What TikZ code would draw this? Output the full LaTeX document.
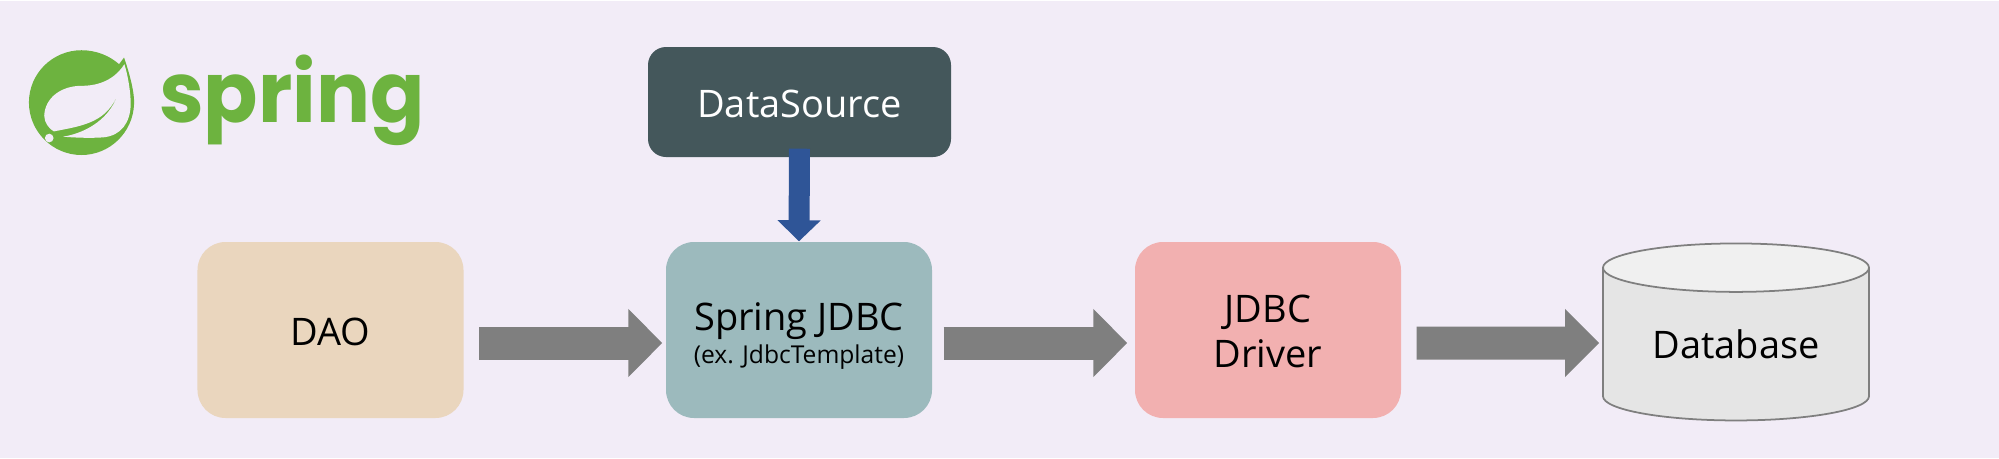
\documentclass[tikz,border=0pt]{standalone}
\usepackage{fontspec}
\setmainfont{Open Sans}
\newfontfamily\logofont{Poppins}
\usetikzlibrary{arrows.meta,shapes.geometric}
\definecolor{pagebg}{HTML}{F2ECF7}
\definecolor{springgreen}{HTML}{6DB33F}
\definecolor{flowgray}{HTML}{7F7F7F}
\definecolor{boxdark}{HTML}{44575B}
\definecolor{boxdao}{HTML}{EAD6BE}
\definecolor{boxjdbc}{HTML}{9CBABD}
\definecolor{boxdriver}{HTML}{F2B0B0}
\definecolor{boxdbside}{HTML}{E5E5E5}
\definecolor{boxdbtop}{HTML}{F0F0F0}
\definecolor{boxblue}{HTML}{2F5597}
\newcommand{\boxline}[2]{\raisebox{#1}[0pt][0pt]{#2}}
\tikzset{
  box/.style={rounded corners=0.28cm,minimum width=2.66cm,minimum height=1.76cm,inner sep=0pt,align=center,font=\fontsize{10.8}{13}\selectfont},
  flow/.style={flowgray,line width=0.33cm,-{Triangle[length=0.34cm,width=0.66cm]}},
}

\begin{document}
\begin{tikzpicture}
  \useasboundingbox (0,0) rectangle (19.99,4.58);
  \fill[pagebg] (0,0) rectangle (19.99,4.57);

  % logo
  \begin{scope}[x=0.003333cm,y=-0.003333cm,shift={(0,-1374)}]
    \fill[springgreen] (373,170) .. controls (392,225) and (405,280) .. (403,310)
      .. controls (400,395) and (330,463) .. (245,463)
      .. controls (158,463) and (87,392) .. (87,305)
      .. controls (87,218) and (158,148) .. (245,148)
      .. controls (290,148) and (330,165) .. (358,190) -- cycle;
    \fill[pagebg] (374,190) .. controls (345,235) and (300,255) .. (245,255)
      .. controls (185,255) and (135,290) .. (133,345)
      .. controls (133,365) and (148,385) .. (162,392)
      .. controls (250,375) and (325,365) .. (357,272)
      .. controls (335,350) and (265,395) .. (190,408)
      .. controls (240,412) and (280,412) .. (310,410)
      .. controls (365,405) and (392,365) .. (393,310)
      .. controls (393,275) and (385,225) .. (374,190) -- cycle;
    \fill[pagebg] (148,412) circle [radius=13];
  \end{scope}
  \node[springgreen,inner sep=0pt,xscale=0.95] (logotext) at (2.92,3.58) {\fontsize{24}{28}\logofont\bfseries spring};

  \node[box,fill=boxdark,text=white,minimum width=3.03cm,minimum height=1.10cm,rounded corners=0.18cm] (datasource) at (7.995,3.56) {\boxline{-4.3pt}{DataSource}};
  \node[box,fill=boxdao] (dao) at (3.305,1.28) {\boxline{-4.5pt}{DAO}};
  \node[box,fill=boxjdbc] (jdbc) at (7.99,1.28) {\boxline{-4.7pt}{Spring JDBC}\\[-3.6pt]\boxline{-4.7pt}{\fontsize{7}{9}\selectfont (ex. JdbcTemplate)}};
  \node[box,fill=boxdriver] (driver) at (12.68,1.28) {\boxline{-4.4pt}{JDBC}\\[-0.2pt]\boxline{-4.4pt}{Driver}};
  \node[shape=cylinder,shape border rotate=90,aspect=0.29,draw=flowgray,line width=0.5pt,cylinder uses custom fill,cylinder body fill=boxdbside,cylinder end fill=boxdbtop,minimum width=2.66cm,minimum height=1.77cm,inner sep=0pt,font=\fontsize{10.8}{13}\selectfont] (database) at (17.36,1.135) {Database};

  \draw[flow] ([yshift=-0.13cm,xshift=0.15cm]dao.east) -- ([yshift=-0.13cm,xshift=-0.03cm]jdbc.west);
  \draw[flow] ([yshift=-0.13cm,xshift=0.11cm]jdbc.east) -- ([yshift=-0.13cm,xshift=-0.07cm]driver.west);
  \draw[flow] ([yshift=-0.13cm,xshift=0.15cm]driver.east) -- ([yshift=0.015cm,xshift=-0.03cm]database.west);
  \draw[boxblue,line width=0.21cm,-{Triangle[length=0.21cm,width=0.42cm]}] ([yshift=0.09cm]datasource.south) -- (jdbc.north);
\end{tikzpicture}
\end{document}
